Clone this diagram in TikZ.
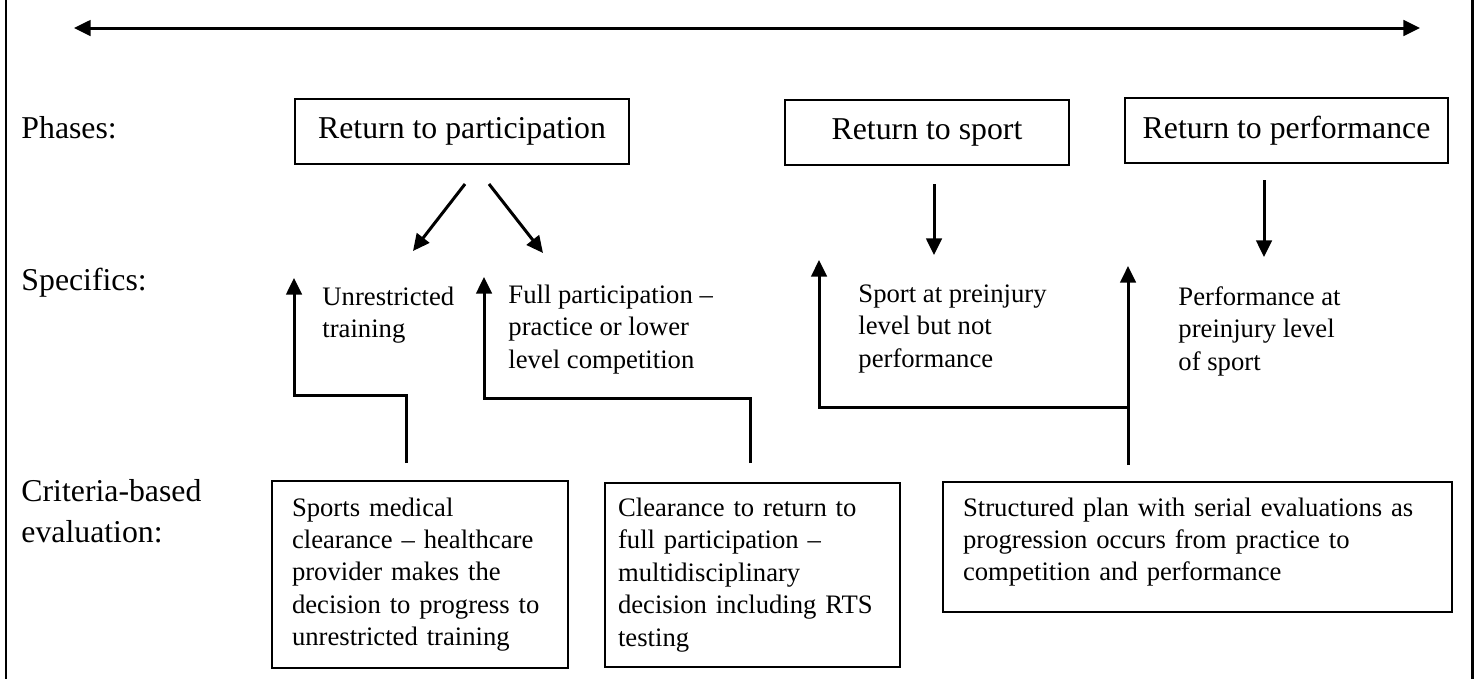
\documentclass[tikz,border=0pt]{standalone}
\usepackage{fontspec}
\setmainfont{Liberation Serif}
\usetikzlibrary{arrows.meta}
\tikzset{
arr/.style={line width=1.35pt,-{Triangle[length=7.5pt,width=7pt]}},
phasebox/.style={draw,line width=0.9pt,minimum height=29.25pt,font=\fontsize{14.3}{17}\selectfont},
evalbox/.style={draw,line width=0.9pt,align=left,font=\fontsize{12}{14.6}\selectfont},
spec/.style={anchor=base west,align=left,inner sep=0pt,font=\fontsize{12}{14.6}\selectfont},
rowlbl/.style={anchor=base west,align=left,inner sep=0pt,font=\fontsize{14.3}{18.45}\selectfont}
}
\begin{document}
\begin{tikzpicture}[x=0.45pt,y=-0.45pt]
\useasboundingbox(0,0)rectangle(1477,679);
\foreach \fx in {6,1472.5}{\draw[line width=1.2pt](\fx,0)--(\fx,679);}
\coordinate(tl)at(74,28);
\coordinate(tr)at(1420,28);
\draw[line width=1.35pt,{Triangle[length=7.5pt,width=7pt]}-{Triangle[length=7.5pt,width=7pt]}](tl)--(tr);
\node[rowlbl](lph)at(21,138){Phases:};
\node[rowlbl](lsp)at(21,290){Specifics:};
\node[rowlbl](lcr)at(21,542){Criteria-based\\evaluation:};
\node[phasebox,minimum width=150.3pt](p1)at(462,131.5){Return to participation};
\node[phasebox,minimum width=127.8pt](p2)at(927,132){Return to sport};
\node[phasebox,minimum width=145.35pt](p3)at(1286.5,130.5){Return to performance};
\node[spec](s1)at(322,337.5){Unrestricted\\training};
\node[spec](s2)at(508,368){Full participation --\\practice or lower\\level competition};
\node[spec](s3)at(858,367){Sport at preinjury\\level but not\\performance};
\node[spec](s4)at(1178,370){Performance at\\preinjury level\\of sport};
\node[evalbox,minimum width=133.2pt,minimum height=84.15pt,text width=115.2pt](e1)at(420,574.5){Sports medical\\clearance -- healthcare\\provider makes the\\decision to progress to\\unrestricted training};
\node[evalbox,minimum width=132.75pt,minimum height=82.8pt,text width=121pt](e2)at(752.5,575){Clearance to return to\\full participation --\\multidisciplinary\\decision including RTS\\testing};
\node[evalbox,minimum width=229.05pt,minimum height=58.5pt,text width=211pt](e3)at(1197.5,547){Structured plan with serial evaluations as\\progression occurs from practice to\\competition and performance\rule[-7pt]{0pt}{0pt}};
\foreach \ax/\ay/\bx/\by/\nm in {465/184/413/251/a,489/184/543/253/b,934/184/934/255/c,1264/180/1264/257/d}{
\coordinate(\nm0)at(\ax,\ay);
\coordinate(\nm1)at(\bx,\by);
\draw[arr](\nm0)--(\nm1);}
\coordinate(f0)at(406,463);
\coordinate(f1)at(294,278);
\coordinate(g0)at(750,463);
\coordinate(g1)at(484,277);
\coordinate(h0)at(1128,465);
\coordinate(h1)at(1128,266);
\coordinate(hb)at(1128,407);
\coordinate(h2)at(819,260);
\draw[arr](f0)--++(0,-68)-|(f1);
\draw[arr](g0)--++(0,-65)-|(g1);
\draw[arr](h0)--(h1);
\draw[arr](hb)-|(h2);
\end{tikzpicture}
\end{document}
